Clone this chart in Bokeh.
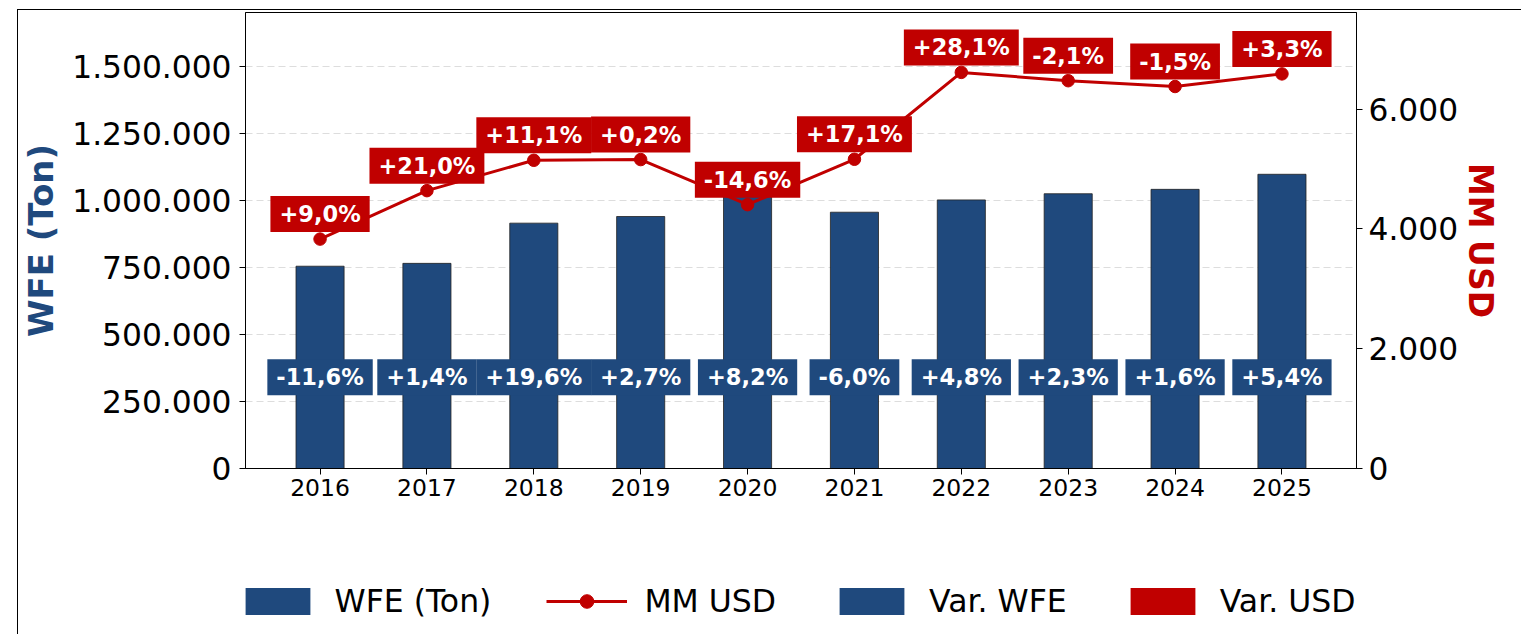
from bokeh.plotting import figure
from bokeh.layouts import column
from bokeh.models import (ColumnDataSource, Range1d, LinearAxis, FixedTicker,
                          Legend, LegendItem)
from bokeh.core.properties import value
from bokeh.embed import file_html
from bokeh.resources import INLINE

# ---------------- data ----------------
years = [2016, 2017, 2018, 2019, 2020, 2021, 2022, 2023, 2024, 2025]
wfe_ton = [754600, 765200, 915200, 940000, 1017000, 956000, 1001900, 1024900, 1041300, 1097500]
mm_usd = [3831, 4640, 5147, 5159, 4406, 5164, 6615, 6476, 6379, 6590]
var_wfe = ["-11,6%", "+1,4%", "+19,6%", "+2,7%", "+8,2%", "-6,0%", "+4,8%", "+2,3%", "+1,6%", "+5,4%"]
var_usd = ["+9,0%", "+21,0%", "+11,1%", "+0,2%", "-14,6%", "+17,1%", "+28,1%", "-2,1%", "-1,5%", "+3,3%"]

wfe_ticks = [0, 250000, 500000, 750000, 1000000, 1250000, 1500000]
wfe_tick_labels = ["0", "250.000", "500.000", "750.000", "1.000.000", "1.250.000", "1.500.000"]
usd_ticks = [0, 2000, 4000, 6000]
usd_tick_labels = ["0", "2.000", "4.000", "6.000"]
year_labels = [str(y) for y in years]

# ---------------- styles ----------------
BLUE = "#1F497D"
RED = "#C00000"
FONT = value("DejaVu Sans")
W = 1524

src = ColumnDataSource(dict(year=years, wfe=wfe_ton, usd=mm_usd,
                            var_wfe=var_wfe, var_usd=var_usd))

p = figure(width=W, height=540,
           x_range=Range1d(2015.3025, 2025.6975),
           y_range=Range1d(0, 1701000),
           output_backend="svg", toolbar_location=None,
           min_border_left=227, min_border_right=W - 227 - 1132,
           min_border_top=2, min_border_bottom=82)
p.extra_y_ranges = {"usd": Range1d(0, 7615)}

p.outline_line_color = "black"
p.outline_line_width = 1
p.background_fill_color = "white"
p.border_fill_color = "white"

# grid
p.xgrid.grid_line_color = None
p.ygrid.grid_line_color = "#dddddd"
p.ygrid.grid_line_dash = "7 4"
p.ygrid.grid_line_width = 1
p.ygrid.ticker = FixedTicker(ticks=wfe_ticks)

# x axis
xa = p.xaxis[0]
xa.ticker = FixedTicker(ticks=years)
xa.major_label_overrides = dict(zip(years, year_labels))
xa.major_label_text_font = "DejaVu Sans"
xa.major_label_text_font_size = "23.5px"
xa.major_label_text_color = "black"
xa.major_label_standoff = 4
xa.major_tick_in = 0
xa.major_tick_out = 6
xa.minor_tick_line_color = None
xa.axis_line_color = "black"

# left axis
ya = p.yaxis[0]
ya.ticker = FixedTicker(ticks=wfe_ticks)
ya.major_label_overrides = dict(zip(wfe_ticks, wfe_tick_labels))
ya.major_label_text_font = "DejaVu Sans"
ya.major_label_text_font_size = "31.3px"
ya.major_label_text_color = "black"
ya.major_label_standoff = 8
ya.major_tick_in = 0
ya.major_tick_out = 6
ya.minor_tick_line_color = None
ya.axis_label = "WFE (Ton)"
ya.axis_label_text_font = "DejaVu Sans"
ya.axis_label_text_font_style = "bold"
ya.axis_label_text_font_size = "34px"
ya.axis_label_text_color = BLUE
ya.axis_label_standoff = 8

# right axis
ra = LinearAxis(y_range_name="usd", ticker=FixedTicker(ticks=usd_ticks))
ra.major_label_overrides = dict(zip(usd_ticks, usd_tick_labels))
ra.major_label_text_font = "DejaVu Sans"
ra.major_label_text_font_size = "31.3px"
ra.major_label_text_color = "black"
ra.major_label_standoff = 6
ra.major_tick_in = 0
ra.major_tick_out = 6
ra.minor_tick_line_color = None
ra.axis_label = "MM USD"
ra.axis_label_text_font = "DejaVu Sans"
ra.axis_label_text_font_style = "bold"
ra.axis_label_text_font_size = "33px"
ra.axis_label_text_color = RED
ra.axis_label_standoff = 0
p.add_layout(ra, "right")

# bars
bars = p.vbar(x="year", top="wfe", width=0.45, source=src, fill_color=BLUE,
              line_color="#222222", line_width=0.8)

# line
ln = p.line(x="year", y="usd", source=src, y_range_name="usd", line_color=RED, line_width=3)
sc = p.scatter(x="year", y="usd", source=src, y_range_name="usd", size=12.5,
               fill_color=RED, line_color=RED)

# labels
p.text(x="year", y=340000, text="var_wfe", source=src, text_color="white",
       text_font=FONT, text_font_style="bold", text_font_size="22.5px",
       text_align="center", text_baseline="middle",
       background_fill_color=BLUE, padding=(9, 5))
p.text(x="year", y="usd", text="var_usd", source=src, y_range_name="usd",
       y_offset=-25, text_color="white",
       text_font=FONT, text_font_style="bold", text_font_size="22.5px",
       text_align="center", text_baseline="middle",
       background_fill_color=RED, padding=(9, 5))

# ---------------- legend strip ----------------
pl = figure(width=W, height=84, x_range=Range1d(0, 1), y_range=Range1d(0, 1),
            output_backend="svg", toolbar_location=None,
            x_axis_type=None, y_axis_type=None,
            min_border_left=0, min_border_right=0, min_border_top=0, min_border_bottom=0)
pl.outline_line_color = None
pl.xgrid.grid_line_color = None
pl.ygrid.grid_line_color = None
pl.background_fill_color = "white"
pl.border_fill_color = "white"

# legend-only renderers (zero height / outside the strip's view)
l_wfe = pl.vbar(x="year", top=0, width=0.45, source=src, fill_color=BLUE, line_color=None)
l_ln = pl.line(x="year", y="usd", source=src, line_color=RED, line_width=3)
l_sc = pl.scatter(x="year", y="usd", source=src, size=12.5, fill_color=RED, line_color=RED)
l_vw = pl.vbar(x="year", top=0, width=0.45, source=src, fill_color=BLUE, line_color=None)
l_vu = pl.vbar(x="year", top=0, width=0.45, source=src, fill_color=RED, line_color=None)

legend = Legend(items=[LegendItem(label="WFE (Ton)", renderers=[l_wfe]),
                       LegendItem(label="MM USD", renderers=[l_ln, l_sc]),
                       LegendItem(label="Var. WFE", renderers=[l_vw]),
                       LegendItem(label="Var. USD", renderers=[l_vu])],
                location=(-8, 15), orientation="horizontal",
                glyph_width=81, glyph_height=34, label_standoff=17, spacing=55,
                padding=0, margin=0, border_line_color=None, background_fill_alpha=0,
                label_text_font="DejaVu Sans", label_text_font_size="31.5px",
                label_text_color="black")
pl.add_layout(legend)

layout = column(p, pl, spacing=0)
layout.styles = {"border-left": "1.5px solid black", "border-top": "1.5px solid black",
                 "margin-left": "16.5px", "margin-top": "8.5px",
                 "max-width": "1504px", "overflow": "hidden"}

open("out.html", "w").write(file_html(layout, INLINE))
